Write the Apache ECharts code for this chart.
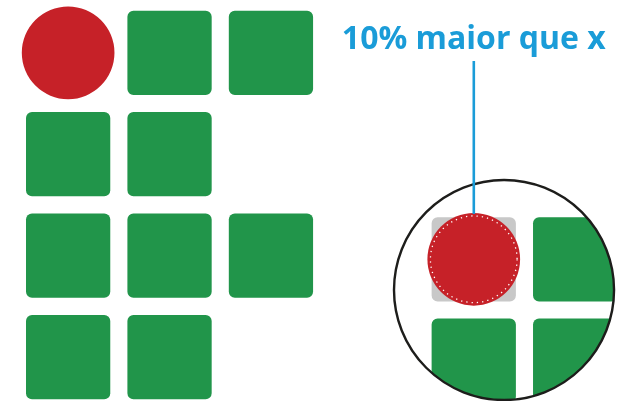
<!DOCTYPE html>
<html>
<head>
<meta charset="utf-8">
<script src="https://cdn.jsdelivr.net/npm/echarts@6/dist/echarts.min.js"></script>
<style>
  html, body { margin: 0; padding: 0; background: #fff; }
  #chart { width: 625px; height: 401px; }
</style>
</head>
<body>
<div id="chart"></div>
<script>
// grid positions, in cells (col, row)
const logoDots = [[0, 0]]
const logoSquares = [[1, 0], [2, 0], [0, 1], [1, 1], [0, 2], [1, 2], [2, 2], [0, 3], [1, 3]]
const lensDots = [[4, 2]]
const lensSquares = [[5, 2], [4, 3], [5, 3]]
// lens: centre col, centre row, radius (cells)
const lens = [[4.714, 2.754, 1.085]]
// callout: col, text row, line top row, text
const callout = [[4.416, 0.292, 0.496, '10% maior que x']]

const cellSize = 0.831
const dotRadius = 0.457
const lensOffset = 0.036

const GREEN = '#21954a'
const RED = '#c62128'
const BLUE = '#1a9cd8'

const chart = echarts.init(document.getElementById('chart'))

function squareItem(dy) {
  return function (params, api) {
    const p = api.coord([api.value(0), api.value(1) + dy])
    const s = api.size([cellSize, cellSize])
    return {
      type: 'rect',
      shape: { x: p[0], y: p[1], width: s[0], height: s[1], r: 6 },
      style: { fill: GREEN }
    }
  }
}

function dotItem(dy, withBox) {
  return function (params, api) {
    const p = api.coord([api.value(0) + cellSize / 2, api.value(1) + dy + cellSize / 2])
    const s = api.size([cellSize, cellSize])
    const r = api.size([dotRadius, dotRadius])[0]
    const children = []
    if (withBox) {
      children.push({
        type: 'rect',
        shape: { x: p[0] - s[0] / 2, y: p[1] - s[1] / 2, width: s[0], height: s[1], r: 6 },
        style: { fill: '#c8c8c8' }
      })
    }
    children.push({
      type: 'circle',
      shape: { cx: p[0], cy: p[1], r: r },
      style: { fill: RED }
    })
    if (withBox) {
      children.push({
        type: 'circle',
        shape: { cx: p[0], cy: p[1], r: r - 3 },
        style: { fill: null, stroke: '#fff', lineWidth: 1.3, lineDash: [1.3, 4] }
      })
    }
    return { type: 'group', children: children }
  }
}

chart.setOption({
  animation: false,
  backgroundColor: '#fff',
  grid: { left: 0, right: 0, top: 0, bottom: 0 },
  xAxis: { type: 'value', min: -0.2564, max: 5.907, show: false },
  yAxis: { type: 'value', min: -0.1055, max: 3.849, inverse: true, show: false },
  series: [
    {
      type: 'custom',
      z: 1,
      data: lensSquares,
      renderItem: squareItem(lensOffset)
    },
    {
      type: 'custom',
      z: 2,
      data: lensDots,
      renderItem: dotItem(lensOffset, true)
    },
    {
      // white mask outside the lens + lens rim
      type: 'custom',
      z: 3,
      data: lens,
      renderItem: function (params, api) {
        const c = api.coord([api.value(0), api.value(1)])
        const r = api.size([api.value(2), api.value(2)])[0]
        return {
          type: 'group',
          children: [
            { type: 'ring', shape: { cx: c[0], cy: c[1], r: r + 80, r0: r }, style: { fill: '#fff' } },
            { type: 'circle', shape: { cx: c[0], cy: c[1], r: r }, style: { fill: null, stroke: '#1d1d1b', lineWidth: 2.4 } }
          ]
        }
      }
    },
    {
      type: 'custom',
      z: 4,
      data: logoSquares,
      renderItem: squareItem(0)
    },
    {
      type: 'custom',
      z: 4,
      data: logoDots,
      renderItem: dotItem(0, false)
    },
    {
      type: 'custom',
      z: 5,
      data: callout,
      renderItem: function (params, api) {
        const x = api.value(0)
        const t = api.coord([x, api.value(1)])
        const top = api.coord([x, api.value(2)])
        const dotTop = lensDots[0][1] + lensOffset + cellSize / 2 - dotRadius
        const bottom = api.coord([x, dotTop])
        return {
          type: 'group',
          children: [
            {
              type: 'line',
              shape: { x1: top[0], y1: top[1], x2: bottom[0], y2: bottom[1] + 1 },
              style: { stroke: BLUE, lineWidth: 2.6 }
            },
            {
              type: 'text',
              style: {
                x: t[0], y: t[1],
                text: callout[params.dataIndex][3],
                fill: BLUE,
                font: 'bold 32px "Open Sans"',
                align: 'center',
                verticalAlign: 'middle'
              }
            }
          ]
        }
      }
    }
  ]
})
</script>
</body>
</html>
